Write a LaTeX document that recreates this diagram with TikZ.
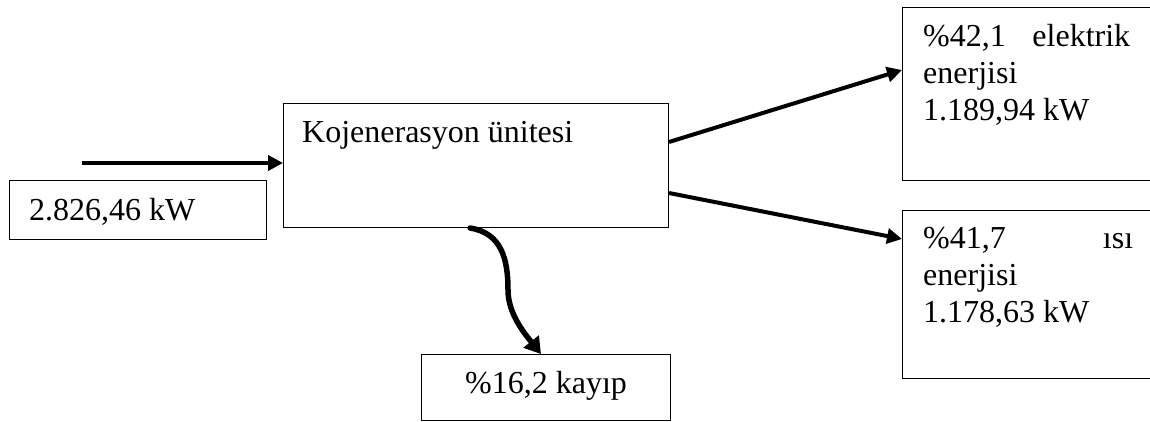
\documentclass[tikz,border=0pt]{standalone}
\usepackage{fontspec}
\setmainfont{Liberation Serif}
\usetikzlibrary{arrows.meta,calc}
\begin{document}
\begin{tikzpicture}[x=1pt,y=-1pt,
  box/.style={draw=black,line width=1pt,rectangle,inner sep=0pt,anchor=north west},
  txt/.style={inner sep=0pt,anchor=base west,font=\fontsize{32}{37}\selectfont},
  flow/.style={line width=4pt,-{Triangle[length=15pt,width=15pt]}},
  lossflow/.style={line width=5.5pt,line cap=round,-{Triangle[length=16pt,width=19pt]}},
  ]
\useasboundingbox (0,0) rectangle (1150,422);
\clip (0,0) rectangle (1150,422);
\fill[white] (0,0) rectangle (1150,422);

% boxes
\node[box,minimum width=385pt,minimum height=124pt] (main) at (283,103) {};
\node[box,minimum width=257pt,minimum height=59pt] (in) at (9,180) {};
\node[box,minimum width=270pt,minimum height=173pt] (elec) at (902,7) {};
\node[box,minimum width=270pt,minimum height=168pt] (heat) at (902,210) {};
\node[box,minimum width=249pt,minimum height=66pt] (loss) at (421,354) {};

% texts
\node[txt] (maintxt) at (302,143) {Kojenerasyon ünitesi};
\node[txt] (intxt) at (29,220) {2.826,46 kW};
\node[txt] (losstxt) at (465,393) {\%16,2 kayıp};
\node[txt] (electxt) at (923,47) {\parbox[t]{207pt}{\%42,1\hfill elektrik\\enerjisi\\1.189,94 kW}};
\node[txt] (heattxt) at (923,248) {\parbox[t]{210pt}{\%41,7\hfill ısı\\enerjisi\\1.178,63 kW}};

% connectors
\coordinate (src) at (82,163);
\draw[flow] (src) -- (src -| main.west);
\draw[flow] ($(main.north east)+(0,39)$) -- ($(elec.north west)+(0,63)$);
\draw[flow] ($(main.north east)+(0,90)$) -- ($(heat.north west)+(0,29)$);
\coordinate (bend) at (508,290);
\draw[lossflow] ($(main.south west)+(187,0)$) .. controls +(32,5) and +(0,-30) .. (bend)
  .. controls +(0,24) and +(-16,-20) .. ($(loss.north west)+(120,0)$);
\end{tikzpicture}
\end{document}
